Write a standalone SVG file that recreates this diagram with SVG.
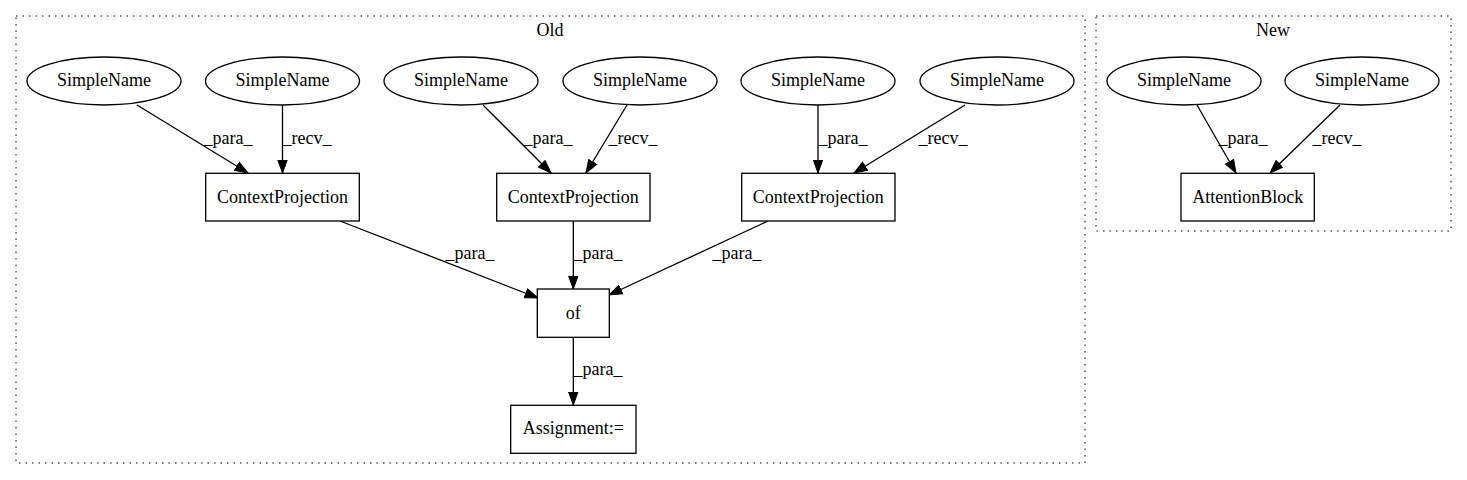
<svg xmlns="http://www.w3.org/2000/svg" width="1467" height="480" viewBox="0 0 1467 480">
<style>
text{font-family:"Liberation Serif","Times New Roman",serif;font-size:18px;fill:#000;text-anchor:middle}
.cl{fill:none;stroke:#000;stroke-width:1;stroke-dasharray:1.5,5}
.n{fill:#fff;stroke:#000;stroke-width:1.3}
.e{fill:none;stroke:#000;stroke-width:1.3;marker-end:url(#ah)}
</style>
<defs>
<marker id="ah" markerUnits="userSpaceOnUse" markerWidth="15" markerHeight="12" refX="13.5" refY="6" orient="auto" viewBox="0 0 15 12">
<path d="M0.5,1.3 L13.5,6 L0.5,10.7 z" fill="#000" stroke="#000" stroke-width="1"/>
</marker>
</defs>
<rect width="1467" height="480" fill="#fff"/>
<g id="cluster-old">
<rect class="cl" x="16" y="16" width="1069" height="447"/>
<text x="550" y="36">Old</text>
</g>
<g id="cluster-new">
<rect class="cl" x="1096" y="16" width="355" height="215"/>
<text x="1273" y="36">New</text>
</g>
<g id="connectors">
<path class="e" d="M137,105 L248,173"/>
<text x="228" y="144">_para_</text>
<path class="e" d="M282.5,105 L282.5,173"/>
<text x="307" y="144">_recv_</text>
<path class="e" d="M483,105 L551,173"/>
<text x="548" y="144">_para_</text>
<path class="e" d="M627,105 L586,173"/>
<text x="633" y="144">_recv_</text>
<path class="e" d="M818,105 L818,173"/>
<text x="843" y="144">_para_</text>
<path class="e" d="M965,105 L854,173"/>
<text x="943" y="144">_recv_</text>
<path class="e" d="M1197,105 L1236,173"/>
<text x="1243" y="144">_para_</text>
<path class="e" d="M1340,105 L1270,173"/>
<text x="1337" y="144">_recv_</text>
<path class="e" d="M340,221 L538,298"/>
<text x="470" y="259">_para_</text>
<path class="e" d="M573.3,221 L573.3,289"/>
<text x="598" y="259">_para_</text>
<path class="e" d="M768,221 L609,295"/>
<text x="737" y="259">_para_</text>
<path class="e" d="M573.3,337 L573.3,405"/>
<text x="598" y="375">_para_</text>
</g>
<g id="sn1"><ellipse class="n" cx="104" cy="81" rx="77" ry="24"/><text x="104" y="86">SimpleName</text></g>
<g id="sn2"><ellipse class="n" cx="282.5" cy="81" rx="77" ry="24"/><text x="282.5" y="86">SimpleName</text></g>
<g id="sn3"><ellipse class="n" cx="461" cy="81" rx="77" ry="24"/><text x="461" y="86">SimpleName</text></g>
<g id="sn4"><ellipse class="n" cx="640" cy="81" rx="77" ry="24"/><text x="640" y="86">SimpleName</text></g>
<g id="sn5"><ellipse class="n" cx="818" cy="81" rx="77" ry="24"/><text x="818" y="86">SimpleName</text></g>
<g id="sn6"><ellipse class="n" cx="997" cy="81" rx="77" ry="24"/><text x="997" y="86">SimpleName</text></g>
<g id="sn7"><ellipse class="n" cx="1184" cy="81" rx="77" ry="24"/><text x="1184" y="86">SimpleName</text></g>
<g id="sn8"><ellipse class="n" cx="1362" cy="81" rx="77" ry="24"/><text x="1362" y="86">SimpleName</text></g>
<g id="cp1"><rect class="n" x="205.7" y="173.3" width="153.6" height="47.7"/><text x="282.5" y="202.5">ContextProjection</text></g>
<g id="cp2"><rect class="n" x="496.7" y="173.3" width="153.3" height="47.7"/><text x="573.3" y="202.5">ContextProjection</text></g>
<g id="cp3"><rect class="n" x="741.7" y="173.3" width="153.3" height="47.7"/><text x="818.3" y="202.5">ContextProjection</text></g>
<g id="ab"><rect class="n" x="1181" y="173.3" width="133.3" height="47.7"/><text x="1247.7" y="202.5">AttentionBlock</text></g>
<g id="of"><rect class="n" x="537.3" y="289" width="72" height="48.3"/><text x="573.3" y="318.5">of</text></g>
<g id="assign"><rect class="n" x="510.7" y="405.3" width="125.3" height="48"/><text x="573.3" y="434">Assignment:=</text></g>
</svg>
